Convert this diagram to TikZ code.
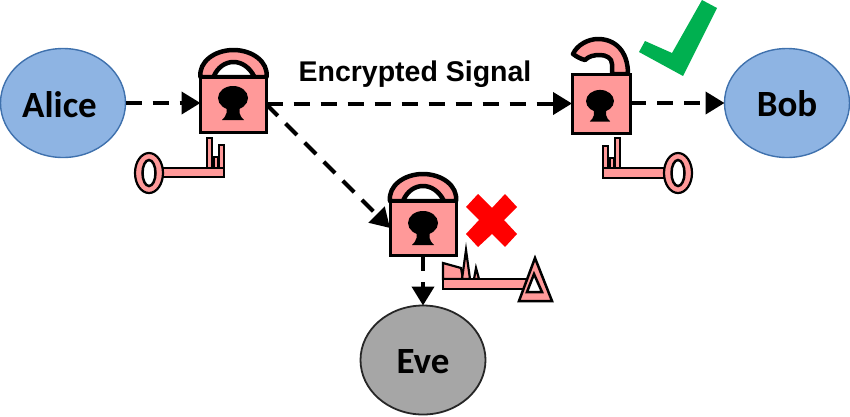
\documentclass[tikz,border=0pt]{standalone}
\usepackage{fontspec}
\setmainfont{Liberation Sans}
\newfontfamily\partyfont{Carlito}
\usetikzlibrary{arrows.meta,shapes.geometric}
\definecolor{lockpink}{HTML}{FF9999}
\definecolor{partyblue}{HTML}{8EB4E3}
\definecolor{partyedge}{HTML}{3F71AD}
\definecolor{evegray}{HTML}{A6A6A6}
\definecolor{okgreen}{HTML}{00B050}
\tikzset{
  party/.style={ellipse,draw=partyedge,line width=1.4pt,fill=partyblue,inner sep=0pt,outer sep=0pt,minimum width=125pt,minimum height=109pt,text depth=0pt,font=\partyfont\fontsize{37}{40}\selectfont\bfseries},
  lockbody/.style={rectangle,draw=black,line width=3pt,fill=lockpink,inner sep=0pt,outer sep=0pt},
  keypart/.style={draw=black,line width=2.2pt,fill=lockpink,line join=miter},
  shacklepart/.style={draw=black,line width=4.5pt,fill=lockpink,line join=round},
  shacklehole/.style={draw=black,line width=4.5pt,fill=white,line join=round},
  hole/.style={draw=black,line width=2.5pt,fill=white},
  flow/.style={line width=4pt,dash pattern=on 16pt off 11pt,-{Triangle[length=19pt,width=22pt]}},
  keyhole/.style={fill=black,draw=none},
  caption/.style={font=\fontsize{28.5}{32}\selectfont\bfseries,inner sep=0pt}
}
\newcommand{\closedshackle}[2]{%
  \begin{scope}[shift={(#1,#2)}]
    \draw[shacklepart] (0,0) .. controls (-2,-15) and (14,-27) .. (33,-27) .. controls (52,-27) and (68,-15) .. (66,0) -- cycle;
    \draw[shacklehole] (13,0) .. controls (17,-10) and (25,-15) .. (33,-15) .. controls (41,-15) and (49,-10) .. (54,0) -- cycle;
  \end{scope}}
\newcommand{\holeshape}[3]{%
  \begin{scope}[shift={(#1,#2)},scale=#3]
    \fill[keyhole] (0,-1) ellipse [x radius=15,y radius=12];
    \fill[keyhole] (-6.5,6) -- (6.5,6) -- (6.5,14) .. controls (7,17) and (9,19) .. (11,21) -- (-11,21) .. controls (-9,19) and (-7,17) .. (-6.5,14) -- cycle;
  \end{scope}}
\begin{document}
\begin{tikzpicture}[x=1pt,y=-1pt]
\useasboundingbox (0,0) rectangle (850,416);
% parties
\node[party,text height=28pt] (alice) at (63,103) {Alice\kern7pt\relax};
\node[party,text height=26pt] (bob) at (787,103) {Bob};
\node[party,draw=black!85,line width=1.8pt,fill=evegray,text height=26pt] (eve) at (423,360) {Eve};
% shackles
\closedshackle{200.5}{77}
\closedshackle{390}{201}
\draw[shacklepart] (612,74) -- (612,64) .. controls (612,58) and (606,55) .. (600,55) .. controls (594,55) and (589,56) .. (585,60) .. controls (581,59) and (577,57) .. (573,54) .. controls (577,45) and (588,39) .. (598,39) .. controls (615,39) and (628,51) .. (628,74) -- cycle;
% lock bodies
\node[lockbody,minimum width=66pt,minimum height=55pt] (lockA) at (233.5,104.5) {};
\node[lockbody,minimum width=58pt,minimum height=59pt] (lockB) at (601,103.5) {};
\node[lockbody,minimum width=66pt,minimum height=54pt] (lockC) at (423,228) {};
\holeshape{233}{99}{1}
\holeshape{600}{102}{.93}
\holeshape{423}{224}{1}
% connectors
\draw[flow] (alice.east) -- (lockA.west |- alice.east);
\draw[flow] (lockA.east |- lockB.west) -- (lockB.west);
\draw[flow] (lockA.east) -- (lockC.west);
\draw[flow] (lockB.east |- bob.west) -- (bob.west);
\draw[flow] (lockC) -- (eve);
\node[caption] (sig) at (415,74.5) {Encrypted Signal};
% key left
\draw[keypart] (207,168) -- (207,138) -- (212,138) -- (212,168) -- cycle;
\draw[keypart] (219,168) -- (219,145) -- (224,145) -- (224,168) -- cycle;
\draw[keypart] (214,168) -- (214,157) -- (218,157) -- (218,168) -- cycle;
\draw[keypart] (160,168) rectangle (224,177);
\draw[keypart] (149,173) ellipse [x radius=14,y radius=20];
\draw[hole] (149,173) ellipse [x radius=6.5,y radius=13];
% key right
\draw[keypart] (603,168) -- (603,146) -- (608,146) -- (608,168) -- cycle;
\draw[keypart] (615,168) -- (615,138) -- (620,138) -- (620,168) -- cycle;
\draw[keypart] (610,168) -- (610,158) -- (614,158) -- (614,168) -- cycle;
\draw[keypart] (603,168) rectangle (667,178);
\draw[keypart] (678,173) ellipse [x radius=14,y radius=20];
\draw[hole] (678,173) ellipse [x radius=6.5,y radius=13];
% bad key
\draw[keypart] (443,279) -- (443,263) -- (461,268) -- (463,279) -- cycle;
\draw[keypart] (462,279) -- (466,250) -- (470,279) -- cycle;
\draw[keypart] (474,279) -- (476,268) -- (479,279) -- cycle;
\draw[keypart] (443,279) rectangle (527,289);
\draw[keypart,line width=2.5pt] (535,258) -- (552,301) -- (519,301) -- cycle;
\draw[hole] (534,274) -- (542,292) -- (527,292) -- cycle;
% marks
\fill[red] (492,208) -- (505,194) -- (517,207) -- (504,220) -- (517,234) -- (505,247) -- (492,234) -- (478,247) -- (466,234) -- (479,220) -- (466,207) -- (478,194) -- cycle;
\fill[okgreen] (702,0) -- (717,8) -- (683,76) -- (639,52) -- (645,41) -- (672,53) -- cycle;
\end{tikzpicture}
\end{document}
